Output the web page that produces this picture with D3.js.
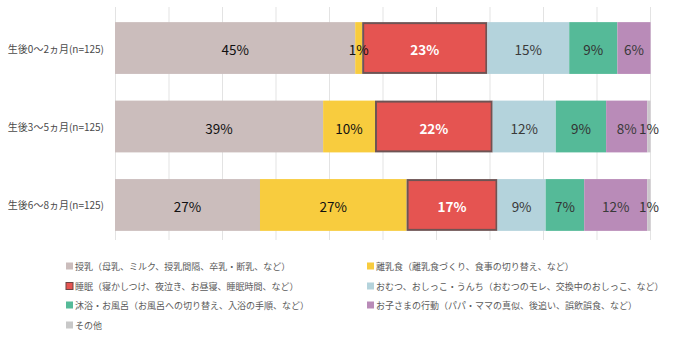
<!DOCTYPE html>
<html><head><meta charset="utf-8">
<script src="https://cdn.jsdelivr.net/npm/d3@7"></script>
<style>
html,body{margin:0;padding:0;background:#fff;}
svg{display:block;font-family:"Noto Sans CJK JP","Noto Sans",sans-serif;}
</style></head>
<body><svg id="chart" width="690" height="340"></svg>
<script>
const categories = ["生後0～2ヵ月(n=125)", "生後3～5ヵ月(n=125)", "生後6～8ヵ月(n=125)"];
const seriesNames = [
  "授乳（母乳、ミルク、授乳間隔、卒乳・断乳、など）",
  "離乳食（離乳食づくり、食事の切り替え、など）",
  "睡眠（寝かしつけ、夜泣き、お昼寝、睡眠時間、など）",
  "おむつ、おしっこ・うんち（おむつのモレ、交換中のおしっこ、など）",
  "沐浴・お風呂（お風呂への切り替え、入浴の手順、など）",
  "お子さまの行動（パパ・ママの真似、後追い、誤飲誤食、など）",
  "その他"
];
const feeding   = [44.9, 38.9, 27.1];
const babyFood  = [1.3, 9.7, 27.4];
const sleep     = [23.4, 22.0, 17.0];
const diapers   = [15.3, 11.8, 9.0];
const bathing   = [9.0, 9.4, 7.2];
const behavior  = [6.2, 7.7, 11.8];
const other     = [0, 0.6, 0.6];
const xTicks = [0,10,20,30,40,50,60,70,80,90,100];

const colors = ["#cbbdbc", "#f8cc3e", "#e55451", "#b4d3dc", "#55ba98", "#b98bb8", "#cbc6cb"];
const labelColors = ["#111", "#111", "#fff", "#3a3a3a", "#333", "#3a3a3a", "#333"];
const series = [feeding, babyFood, sleep, diapers, bathing, behavior, other];

const svg = d3.select("#chart");
const x = d3.scaleLinear().domain([0,100]).range([115,650]);
const y = d3.scaleBand().domain(categories).range([8,245]).paddingInner(0.34).paddingOuter(0.18);

// gridlines
svg.append("g").selectAll("line").data(xTicks).join("line")
  .attr("x1", d=>x(d)+0.5).attr("x2", d=>x(d)+0.5)
  .attr("y1", 7).attr("y2", 240)
  .attr("stroke", "#e3e3e3").attr("stroke-width", 1);

// y-axis labels
svg.append("g").selectAll("text").data(categories).join("text")
  .attr("x", 104).attr("y", d=>y(d)+y.bandwidth()/2)
  .attr("text-anchor","end").attr("dominant-baseline","central")
  .attr("font-size", 10).attr("fill", "#4a4a4a").text(d=>d);

const rows = categories.map((c,i)=>{
  let acc = 0;
  return series.map((s,k)=>{ const v=s[i]; const seg={cat:c,k,v,x0:acc,x1:acc+v}; acc+=v; return seg; });
});

const g = svg.append("g");
rows.forEach(row=>{
  row.filter(s=>s.v>0).forEach(s=>{
    const isSleep = s.k===2;
    g.append("rect")
      .attr("x", x(s.x0)+(isSleep?1:0)).attr("y", y(s.cat)+(isSleep?1:0))
      .attr("width", x(s.x1)-x(s.x0)-(isSleep?2:0)).attr("height", y.bandwidth()-(isSleep?2:0))
      .attr("fill", colors[s.k])
      .attr("stroke", isSleep?"#6e5454":"none").attr("stroke-width", isSleep?2:0);
  });
  row.filter(s=>s.v>0).forEach(s=>{
    g.append("text")
      .attr("x", x((s.x0+s.x1)/2)).attr("y", y(s.cat)+y.bandwidth()/2+1)
      .attr("text-anchor","middle").attr("dominant-baseline","central")
      .attr("font-size", 13.5).attr("font-weight", s.k===2?"bold":"normal")
      .attr("fill", labelColors[s.k])
      .text(Math.round(s.v)+"%");
  });
});

// legend
const legendPos = [[66,266],[367,266],[66,286],[367,286],[66,305],[367,305],[66,325]];
const lg = svg.append("g");
seriesNames.forEach((n,k)=>{
  const [lx,ly]=legendPos[k];
  lg.append("rect").attr("x",lx).attr("y",ly-3.5).attr("width",7).attr("height",7)
    .attr("fill", k===6?"#c8c8c8":colors[k])
    .attr("stroke", k===2?"#6e4444":"none").attr("stroke-width", k===2?1:0);
  lg.append("text").attr("x",lx+9).attr("y",ly).attr("dominant-baseline","central")
    .attr("font-size",9).attr("fill","#5a5a5a").text(n);
});
</script></body></html>
